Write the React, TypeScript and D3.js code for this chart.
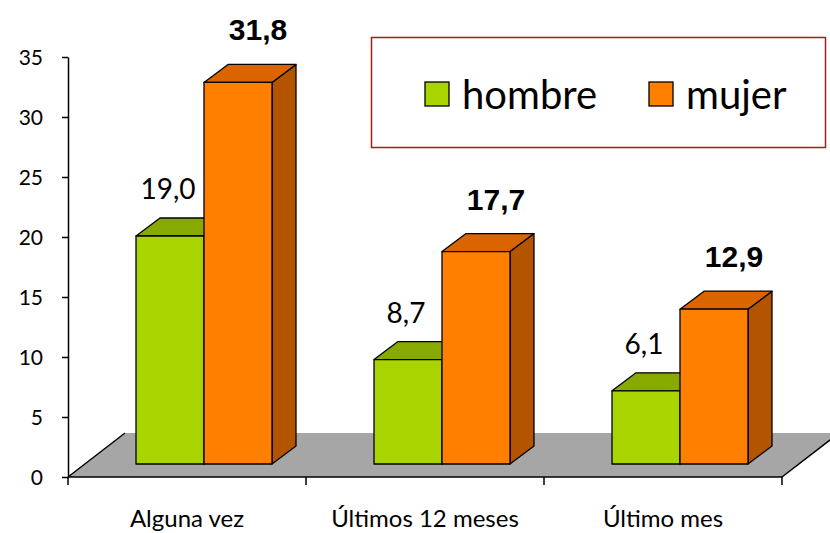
import React, { useEffect, useRef } from 'react';
import * as d3 from 'd3';

const categories = ['Alguna vez', 'Últimos 12 meses', 'Último mes'];
const hombre = [19.0, 8.7, 6.1];
const mujer = [31.8, 17.7, 12.9];
const yTicks = [0, 5, 10, 15, 20, 25, 30, 35];
const seriesNames = ['hombre', 'mujer'];

const W = 830;
const H = 533;
const font = 'Lato, "Open Sans", sans-serif';

export default function App() {
  const ref = useRef<SVGSVGElement>(null);

  useEffect(() => {
    const svg = d3.select(ref.current);
    svg.selectAll('*').remove();

    const x = d3.scaleBand().domain(categories).range([68, 782]);
    const y = d3.scaleLinear().domain([0, 35]).range([477, 57]);

    // 3d offsets: floor depth, where bars stand, bar depth
    const floorD = [57, -44];
    const barOff = [17, -13];
    const barD = [24, -18];
    const bw = x.bandwidth() * 0.2857;

    const x0 = x.range()[0];
    const x1 = x.range()[1];
    const y0 = y(0);
    const bottom = y0 + barOff[1];
    const barTop = (v: number) => bottom - (y0 - y(v));

    // floor
    svg.append('path')
      .attr('d', `M${x0},${y0} L${x0 + floorD[0]},${y0 + floorD[1]} L${x1 + floorD[0]},${y0 + floorD[1]} L${x1},${y0} Z`)
      .attr('fill', '#a6a6a6');
    svg.append('path')
      .attr('d', `M${x0 + floorD[0]},${y0 + floorD[1]} L${x0},${y0} M${x1},${y0} L${x1 + floorD[0]},${y0 + floorD[1]}`)
      .attr('stroke', '#000').attr('stroke-width', 1.5).attr('fill', 'none');

    // bars
    const colors = [
      { front: '#aad400', top: '#88aa00', side: '#6f8c00' },
      { front: '#ff7f00', top: '#d96400', side: '#b35500' },
    ];
    const drawBar = (bx: number, v: number, c: { front: string; top: string; side: string }) => {
      const topY = barTop(v);
      const g = svg.append('g').attr('stroke', '#000').attr('stroke-width', 1.3).attr('stroke-linejoin', 'round');
      g.append('path')
        .attr('d', `M${bx + bw},${bottom} L${bx + bw + barD[0]},${bottom + barD[1]} L${bx + bw + barD[0]},${topY + barD[1]} L${bx + bw},${topY} Z`)
        .attr('fill', c.side);
      g.append('path')
        .attr('d', `M${bx},${topY} L${bx + barD[0]},${topY + barD[1]} L${bx + bw + barD[0]},${topY + barD[1]} L${bx + bw},${topY} Z`)
        .attr('fill', c.top);
      g.append('rect')
        .attr('x', bx).attr('y', topY).attr('width', bw).attr('height', bottom - topY)
        .attr('fill', c.front);
    };

    categories.forEach((cat, i) => {
      const cx = (x(cat) as number) + x.bandwidth() / 2 + barOff[0];
      drawBar(cx - bw, hombre[i], colors[0]);
      drawBar(cx, mujer[i], colors[1]);
    });

    const fmt = (v: number) => d3.format('.1f')(v).replace('.', ',');

    // value labels
    categories.forEach((cat, i) => {
      const cx = (x(cat) as number) + x.bandwidth() / 2 + barOff[0];
      svg.append('text')
        .attr('x', cx - bw / 2 - 2)
        .attr('y', barTop(hombre[i]) - 37)
        .attr('text-anchor', 'middle')
        .attr('font-family', font)
        .attr('font-size', 28)
        .attr('fill', '#000')
        .text(fmt(hombre[i]));
      svg.append('text')
        .attr('x', cx + bw / 2 + 20)
        .attr('y', barTop(mujer[i]) - 42)
        .attr('text-anchor', 'middle')
        .attr('font-family', '"Liberation Sans", Arial, sans-serif')
        .attr('font-weight', 'bold')
        .attr('font-size', 30)
        .attr('fill', '#000')
        .text(fmt(mujer[i]));
    });

    // y axis
    const yAxis = svg.append('g')
      .attr('transform', `translate(${x0},0)`)
      .call(d3.axisLeft(y).tickValues(yTicks).tickSize(6).tickSizeOuter(0).tickPadding(19));
    yAxis.select('.domain').attr('stroke', '#000').attr('stroke-width', 1.5);
    yAxis.selectAll('.tick line').attr('stroke', '#000').attr('stroke-width', 1.5);
    yAxis.selectAll('.tick text')
      .attr('font-family', font).attr('font-size', 21).attr('fill', '#000').attr('dy', '0.36em');

    // x axis
    svg.append('line')
      .attr('x1', x0).attr('x2', x1).attr('y1', y0).attr('y2', y0)
      .attr('stroke', '#000').attr('stroke-width', 1.5);
    const bounds = categories.map((c) => x(c) as number).concat([x1]);
    svg.selectAll('.xtick')
      .data(bounds)
      .enter().append('line')
      .attr('class', 'xtick')
      .attr('x1', (d) => d).attr('x2', (d) => d)
      .attr('y1', y0).attr('y2', y0 + 8)
      .attr('stroke', '#000').attr('stroke-width', 1.5);
    svg.selectAll('.xlabel')
      .data(categories)
      .enter().append('text')
      .attr('class', 'xlabel')
      .attr('x', (d) => (x(d) as number) + x.bandwidth() / 2)
      .attr('y', 527)
      .attr('text-anchor', 'middle')
      .attr('font-family', font)
      .attr('font-size', 24)
      .attr('fill', '#000')
      .text((d) => d);

    // legend
    const lg = svg.append('g');
    lg.append('rect')
      .attr('x', 371.5).attr('y', 37.5).attr('width', 454).attr('height', 110)
      .attr('fill', '#fff').attr('stroke', '#a31f1a').attr('stroke-width', 1.5);
    const legX = [425, 649];
    seriesNames.forEach((name, i) => {
      lg.append('rect')
        .attr('x', legX[i]).attr('y', 82).attr('width', 24).attr('height', 24)
        .attr('fill', colors[i].front).attr('stroke', '#000').attr('stroke-width', 1.3);
      lg.append('text')
        .attr('x', legX[i] + 37).attr('y', 109)
        .attr('font-family', font)
        .attr('font-size', 40)
        .attr('fill', '#000')
        .text(name);
    });
  }, []);

  return (
    <svg ref={ref} width={W} height={H}
      style={{ position: 'absolute', left: 0, top: 0, background: '#fff' }} />
  );
}
